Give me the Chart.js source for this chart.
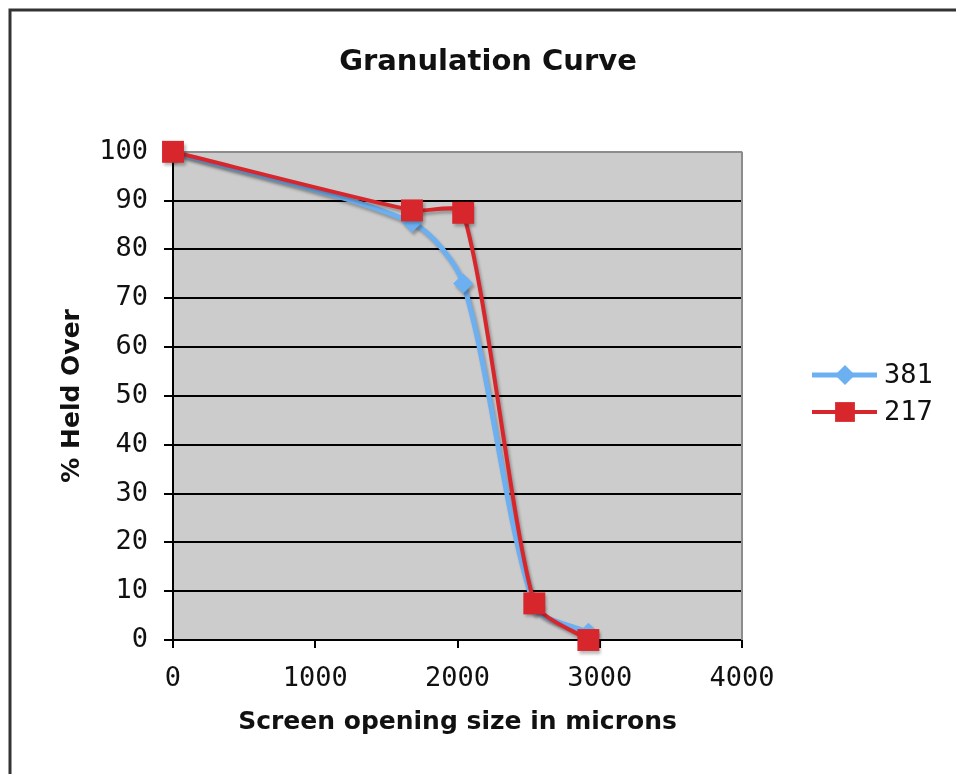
<!DOCTYPE html>
<html>
<head>
<meta charset="utf-8">
<title>Granulation Curve</title>
<script src="https://cdn.jsdelivr.net/npm/chart.js@4/dist/chart.umd.min.js"></script>
<style>
  html, body { margin: 0; padding: 0; background: #ffffff; }
  #wrap { width: 956px; height: 774px; position: relative; }
</style>
</head>
<body>
<div id="wrap"><canvas id="chart" width="956" height="774"></canvas></div>
<script>
// Sieve opening sizes (microns) and percentage of sample held over each screen
const openingSizes = [0, 1680, 2040, 2540, 2920];
const heldOver381 = [100, 85.5, 73, 7, 1.5];
const heldOver217 = [100, 88, 87.5, 7.5, 0];
const seriesNames = ['381', '217'];
const xTicks = [0, 1000, 2000, 3000, 4000];
const yTicks = [0, 10, 20, 30, 40, 50, 60, 70, 80, 90, 100];

const BLUE = '#6cb0f2';
const RED = '#d7272c';
const MONO = '"DejaVu Sans Mono", monospace';
const SANS = '"DejaVu Sans", Verdana, sans-serif';
const TICK_SIZE = 27;

function toPoints(xs, ys) {
  return xs.map((x, i) => ({ x: x, y: ys[i] }));
}

// Outer frame, gray plot background and the plot's right edge
const framePlugin = {
  id: 'frame',
  beforeDraw(chart) {
    const { ctx, chartArea: a } = chart;
    ctx.save();
    ctx.fillStyle = '#ffffff';
    ctx.fillRect(0, 0, chart.width, chart.height);
    ctx.strokeStyle = '#333333';
    ctx.lineWidth = 3;
    ctx.beginPath();
    ctx.moveTo(10, chart.height + 2);
    ctx.lineTo(10, 10);
    ctx.lineTo(chart.width + 2, 10);
    ctx.stroke();
    ctx.fillStyle = '#cccccc';
    ctx.fillRect(a.left, a.top, a.right - a.left, a.bottom - a.top);
    ctx.restore();
  },
  beforeDatasetsDraw(chart) {
    const { ctx, chartArea: a } = chart;
    ctx.save();
    ctx.strokeStyle = '#8c8c8c';
    ctx.lineWidth = 2;
    ctx.beginPath();
    ctx.moveTo(a.right, a.top);
    ctx.lineTo(a.right, a.bottom);
    ctx.stroke();
    ctx.restore();
  }
};

// Soft drop shadow under each series
const shadowPlugin = {
  id: 'seriesShadow',
  beforeDatasetDraw(chart) {
    const ctx = chart.ctx;
    ctx.save();
    ctx.shadowColor = 'rgba(0,0,0,0.28)';
    ctx.shadowOffsetX = 2;
    ctx.shadowOffsetY = 3;
    ctx.shadowBlur = 3;
  },
  afterDatasetDraw(chart) {
    chart.ctx.restore();
  }
};

// Legend to the right of the plot: line sample, marker, series name
const sideLegend = {
  id: 'sideLegend',
  afterDraw(chart) {
    const { ctx } = chart;
    const rows = [375, 412];
    chart.data.datasets.forEach((ds, i) => {
      const y = rows[i];
      ctx.save();
      ctx.strokeStyle = ds.borderColor;
      ctx.lineWidth = ds.borderWidth;
      ctx.beginPath();
      ctx.moveTo(812, y);
      ctx.lineTo(877, y);
      ctx.stroke();
      ctx.fillStyle = ds.pointBackgroundColor;
      ctx.strokeStyle = ds.pointBorderColor;
      Chart.helpers.drawPoint(ctx, {
        pointStyle: ds.pointStyle,
        radius: ds.legendRadius,
        rotation: 0,
        borderWidth: 0
      }, 845, y);
      ctx.fillStyle = '#111111';
      ctx.font = TICK_SIZE + 'px ' + MONO;
      ctx.textAlign = 'left';
      ctx.textBaseline = 'middle';
      ctx.fillText(ds.label, 884, y + 1);
      ctx.restore();
    });
  }
};

new Chart(document.getElementById('chart'), {
  type: 'line',
  data: {
    datasets: [
      {
        label: seriesNames[0],
        data: toPoints(openingSizes, heldOver381),
        borderColor: BLUE,
        backgroundColor: BLUE,
        pointBackgroundColor: BLUE,
        pointBorderColor: BLUE,
        borderWidth: 5,
        pointStyle: 'rectRot',
        pointRadius: 10,
        legendRadius: 10,
        pointBorderWidth: 0,
        tension: 0.27,
        fill: false,
        clip: false,
        order: 1
      },
      {
        label: seriesNames[1],
        data: toPoints(openingSizes, heldOver217),
        borderColor: RED,
        backgroundColor: RED,
        pointBackgroundColor: RED,
        pointBorderColor: RED,
        borderWidth: 4,
        pointStyle: 'rect',
        pointRadius: 15.5,
        legendRadius: 14,
        pointBorderWidth: 0,
        tension: 0.22,
        fill: false,
        clip: false,
        order: 0
      }
    ]
  },
  options: {
    responsive: false,
    animation: false,
    devicePixelRatio: 1,
    layout: { padding: { left: 20, right: 0, top: 0, bottom: 0 } },
    plugins: {
      legend: { display: false },
      tooltip: { enabled: false },
      title: {
        display: true,
        text: 'Granulation Curve',
        color: '#111111',
        font: { family: SANS, size: 29, weight: 'bold' },
        padding: { top: 45.5, bottom: 71.5 }
      }
    },
    scales: {
      x: {
        type: 'linear',
        min: 0,
        max: 4000,
        afterFit(scale) { scale.height = 134; },
        afterBuildTicks(scale) { scale.ticks = xTicks.map(v => ({ value: v })); },
        ticks: {
          color: '#111111',
          font: { family: MONO, size: TICK_SIZE },
          padding: 15,
          maxRotation: 0,
          callback: v => String(v)
        },
        grid: {
          display: true,
          drawOnChartArea: false,
          drawTicks: true,
          tickLength: 8,
          color: '#000000',
          lineWidth: 2
        },
        border: { display: true, color: '#000000', width: 2 },
        title: {
          display: true,
          text: 'Screen opening size in microns',
          color: '#111111',
          font: { family: SANS, size: 25, weight: 'bold' },
          padding: { top: 0, bottom: 37 }
        }
      },
      y: {
        type: 'linear',
        min: 0,
        max: 100,
        afterFit(scale) { scale.width = 153; },
        afterBuildTicks(scale) { scale.ticks = yTicks.map(v => ({ value: v })); },
        ticks: {
          color: '#111111',
          font: { family: MONO, size: TICK_SIZE },
          padding: 16,
          callback: v => String(v)
        },
        grid: {
          display: true,
          drawTicks: true,
          tickLength: 9,
          color: ctx => (ctx.tick && ctx.tick.value === 100 ? '#8c8c8c' : '#000000'),
          lineWidth: 2
        },
        border: { display: true, color: '#000000', width: 2 },
        title: {
          display: true,
          text: '% Held Over',
          color: '#111111',
          font: { family: SANS, size: 25, weight: 'bold' },
          padding: { top: 37, bottom: 0 }
        }
      },
      // empty right-hand band that holds the legend
      legendBand: {
        type: 'linear',
        position: 'right',
        display: true,
        afterFit(scale) { scale.width = 214; },
        ticks: { display: false },
        grid: { display: false, drawOnChartArea: false },
        border: { display: false }
      }
    }
  },
  plugins: [framePlugin, shadowPlugin, sideLegend]
});
</script>
</body>
</html>
